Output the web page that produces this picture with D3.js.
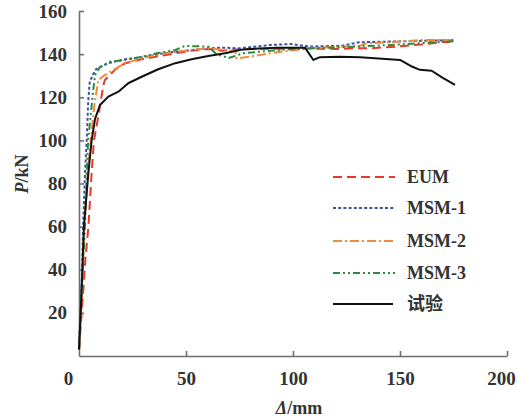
<!DOCTYPE html>
<html lang="zh">
<head>
<meta charset="UTF-8">
<title>P-Δ curves</title>
<style>
    body { margin: 0; background: #fff; }
    .axis path, .axis line { stroke: #6e6e6e; stroke-width: 1.6px; }
    .axis text { font: bold 19px "Liberation Serif", serif; fill: #333; }
    .lbl { font: bold 18px "Liberation Serif", "Noto Sans CJK SC", serif; fill: #333; }
    .curve { fill: none; stroke-width: 2px; stroke-linejoin: round; }
</style>
<script src="https://d3js.org/d3.v7.min.js"></script>
</head>
<body>
<div id="chart"></div>
<script>
// series: [Δ (mm), P (kN)]
const eum = [[0,3],[1.7,26],[3,45],[4.4,60],[5.9,85],[7,100],[9,111],[11.4,125.7],[12.1,128],
    [16.8,132.7],[21.5,135.8],[29.3,137.6],[37,139],[45,140.4],[52,141.5],[60.4,142.4],[66.7,141.6],
    [76.8,142.4],[90,142.5],[105,142.6],[120,142.4],[128,142.7],[136,142.7],[150,143.6],[160,144.5],
    [168.7,145.5],[175,145.8]];
const msm1 = [[0,3],[1.5,40],[1.9,60],[2.8,85],[3.6,100],[4.3,118],[5,127],[6.5,130.5],[8,133],
    [13.6,135.8],[21.5,137.6],[29.3,138.5],[37,140],[45,141.1],[52,141.8],[60.4,142.7],[68.2,143],
    [75,142.7],[89,144.2],[98.6,144.7],[108,143.5],[123,143.9],[131,145.5],[153,146],[175,146.5]];
const msm2 = [[0,3],[1.5,30],[2.5,60],[4,85],[5.5,100],[7,115],[9,128],[12.1,130.3],[21.5,135.8],
    [29.3,138],[37,139.8],[45,141],[52,141.9],[60.4,142.7],[68.2,142],[73,141.5],[73.7,138],
    [84.6,139.6],[94,141.1],[108,142.7],[131.3,143.9],[134.4,145],[150,145.8],[161,146.6],[175,146.6]];
const msm3 = [[0,3],[1.5,35],[2.8,60],[3.6,85],[4.3,100],[6.5,122],[7.5,130.3],[9.8,134],
    [14.5,136.5],[21.5,137.3],[29.3,138.8],[37,140.5],[45,141.9],[49.5,143.8],[60.4,143.5],
    [64.3,140],[70,138.2],[76.8,140.4],[92.4,141.9],[108,142.7],[129.8,143.5],[145,144.2],[175,146]];
const test = [[0,3],[1,25],[2.3,60],[4.4,85],[5.9,100],[7.5,110],[9.8,116.4],[13.7,120.3],
    [18.4,122.6],[23,126.5],[29.3,129.5],[37,133],[45,135.8],[52.6,137.6],[60.4,139.1],[68.2,140.4],
    [76.8,142.2],[92.4,143],[105.6,143],[109.5,137.3],[112.6,138.6],[122,138.8],[131.3,138.5],
    [140,138],[150,137.3],[155,134.5],[159.3,132.7],[164.8,132.3],[170,129],[175.7,125.7]];

const seriesNames = ["EUM", "MSM-1", "MSM-2", "MSM-3", "试验"];
const seriesData = [eum, msm1, msm2, msm3, test];
const colors = ["#e8382c", "#3b52a8", "#f08a3c", "#2b8a3e", "#111"];
const dashes = ["9,5", "3,2.2", "9,3,2,3", "7,3,2,3,2,3", null];

const xTicks = [0, 50, 100, 150, 200];
const yTicks = [20, 40, 60, 80, 100, 120, 140, 160];

const width = 517, height = 420;
const margin = { top: 11, right: 10, bottom: 64, left: 79 };

const svg = d3.select("#chart").append("svg")
    .attr("width", width).attr("height", height);

const x = d3.scaleLinear().domain([0, 200]).range([margin.left, 507]);
const y = d3.scaleLinear().domain([0, 160]).range([356, margin.top]);

// axes with inward ticks
const xAxis = svg.append("g").attr("class", "axis")
    .attr("transform", `translate(0,${y(0)})`)
    .call(d3.axisBottom(x).tickValues(xTicks).tickSizeInner(-5).tickSizeOuter(0).tickPadding(16));
xAxis.selectAll(".tick").filter(d => d === 0).select("line").remove();
xAxis.selectAll(".tick").filter(d => d === 0).select("text").attr("dx", -11);
// keep the last label inside the window
xAxis.selectAll(".tick").filter(d => d === 200).select("text").attr("dx", -6);

const yAxis = svg.append("g").attr("class", "axis")
    .attr("transform", `translate(${x(0)},0)`)
    .call(d3.axisLeft(y).tickValues(yTicks).tickSizeInner(-5).tickSizeOuter(0).tickPadding(12));

const line = d3.line().x(d => x(d[0])).y(d => y(d[1]));

seriesData.forEach((s, i) => {
    svg.append("path")
        .datum(s)
        .attr("class", "curve")
        .attr("stroke", colors[i])
        .attr("stroke-dasharray", dashes[i])
        .attr("d", line);
});

// legend
const legendY = [177, 208, 241, 273, 304];
const legend = svg.append("g");
seriesNames.forEach((name, i) => {
    const g = legend.append("g").attr("transform", `translate(333,${legendY[i]})`);
    g.append("line")
        .attr("x1", 0).attr("x2", i === 4 ? 60 : 62)
        .attr("stroke", colors[i]).attr("stroke-width", 2)
        .attr("stroke-dasharray", dashes[i]);
    g.append("text").attr("class", "lbl")
        .attr("x", 74).attr("y", 6).text(name);
});

// axis titles
svg.append("text").attr("class", "lbl")
    .attr("transform", "translate(28,174) rotate(-90)")
    .attr("text-anchor", "middle")
    .html('<tspan font-style="italic">P</tspan>/kN');

svg.append("text").attr("class", "lbl")
    .attr("x", 299).attr("y", 414)
    .attr("text-anchor", "middle")
    .html('<tspan font-style="italic">Δ</tspan>/mm');
</script>
</body>
</html>
